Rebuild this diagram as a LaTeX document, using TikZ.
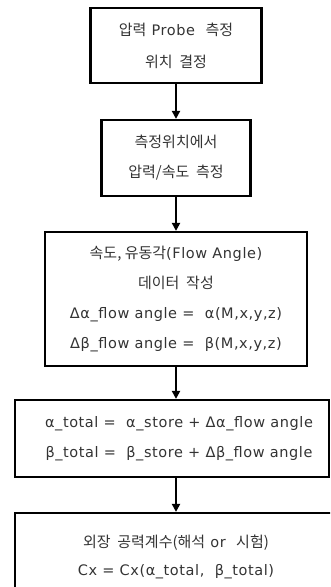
\documentclass[tikz,border=0pt]{standalone}
\usepackage{fontspec}
\setmainfont[LetterSpace=4]{DejaVu Sans}
\newfontfamily\krfont{Noto Sans CJK KR}
\newcommand{\kr}[1]{{\krfont\fontsize{15}{16}\selectfont #1}}
\usetikzlibrary{arrows.meta}
\begin{document}
\begin{tikzpicture}[x=1pt,y=-1pt,
  box/.style={draw=black,line width=2.2pt,align=center,inner sep=0pt,
    font=\fontsize{14.5}{30}\selectfont,text=black!80},
  conn/.style={line width=2pt,-{Triangle[length=8pt,width=8pt]}}]
\useasboundingbox (0,0) rectangle (330,587);
\clip (0,0) rectangle (330,587);
\node[box,minimum width=171,minimum height=75] (b1) at (176,45.5)
  {\kr{압력} Probe\ \ \kr{측정}\\[2pt]\kr{위치\ \ 결정}};
\node[box,minimum width=149,minimum height=76] (b2) at (176,158)
  {\kr{측정위치에서}\\\kr{압력/속도\ \ 측정}};
\node[box,minimum width=262,minimum height=134] (b3) at (176,299)
  {\kr{속도, 유동각}(Flow Angle)\\\kr{데이터\ \ 작성}\\
   Δα\_flow angle =\ \ α(M,x,y,z)\\Δβ\_flow angle =\ \ β(M,x,y,z)};
\node[box,minimum width=314,minimum height=77] (b4) at (172,438.5)
  {\hspace*{14pt}α\_total =\ \ α\_store + Δα\_flow angle\\\hspace*{14pt}β\_total =\ \ β\_store + Δβ\_flow angle};
\node[box,minimum width=322,minimum height=87] (b5) at (176,556.5)
  {\kr{외장\ \ 공력계수(해석} or\ \ \kr{시험)}\\[-2pt]Cx = Cx(α\_total,\ \ β\_total)};
\draw[conn] (b1.south) -- (b2.north);
\draw[conn] (b2.south) -- (b3.north);
\draw[conn] (b3.south) -- (b3.south |- b4.north);
\draw[conn] (b3.south |- b4.south) -- (b3.south |- b5.north);
\end{tikzpicture}
\end{document}
